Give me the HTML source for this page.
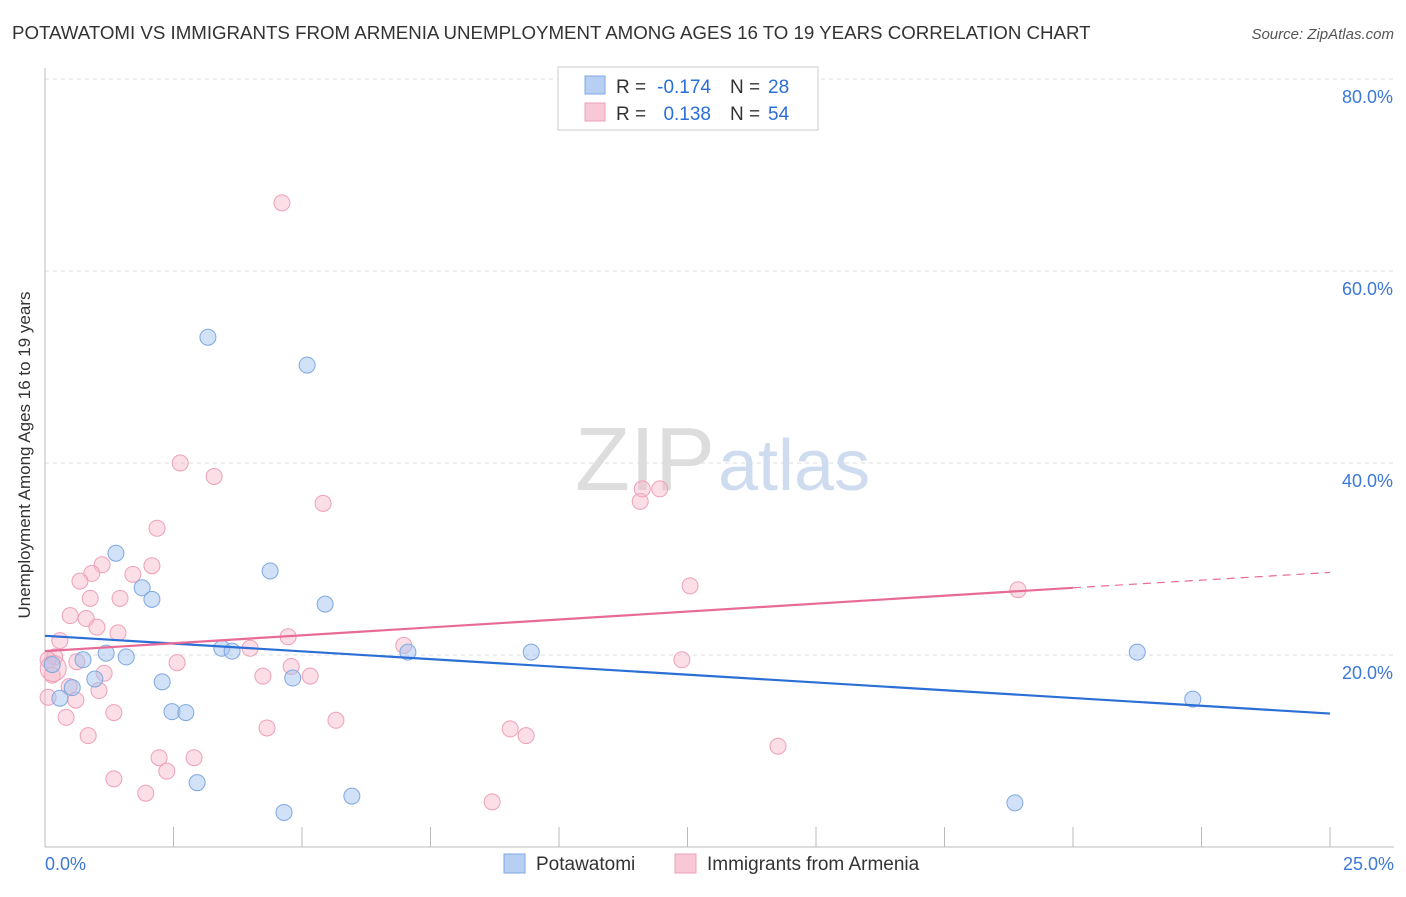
<!DOCTYPE html>
<html><head><meta charset="utf-8"><style>
body{margin:0;background:#fff;font-family:"Liberation Sans",sans-serif;}
svg text{font-family:"Liberation Sans",sans-serif;}
</style></head><body>
<svg width="1406" height="892" id="chart">
<text x="12" y="39" font-size="18.7" fill="#333">POTAWATOMI VS IMMIGRANTS FROM ARMENIA UNEMPLOYMENT AMONG AGES 16 TO 19 YEARS CORRELATION CHART</text>
<text x="1394" y="39" font-size="15" fill="#555" text-anchor="end" font-style="italic">Source: ZipAtlas.com</text>
<g id="grid"></g>
<text x="715" y="490" font-size="90" fill="#ddd" text-anchor="end" font-family="Liberation Serif">ZIP</text>
<text x="718" y="490" font-size="72" fill="#cfdcf0">atlas</text>
<text x="30" y="455" font-size="17" fill="#333" text-anchor="middle" transform="rotate(-90 30 455)">Unemployment Among Ages 16 to 19 years</text>
<g id="marks"></g>
<g>
<rect x="558" y="67" width="260" height="63" fill="#fff" stroke="#ccc"/>
<rect x="585" y="76" width="20" height="18" fill="#b6cff3" stroke="#7fa8e0"/>
<rect x="585" y="103" width="20" height="18" fill="#f9c8d6" stroke="#eea0b8"/>
<text x="616" y="93" font-size="19" fill="#333">R =</text>
<text x="711" y="93" font-size="19" fill="#2b6fd6" text-anchor="end">-0.174</text>
<text x="730" y="93" font-size="19" fill="#333">N =</text>
<text x="768" y="93" font-size="19" fill="#2b6fd6">28</text>
<text x="616" y="120" font-size="19" fill="#333">R =</text>
<text x="711" y="120" font-size="19" fill="#2b6fd6" text-anchor="end">0.138</text>
<text x="730" y="120" font-size="19" fill="#333">N =</text>
<text x="768" y="120" font-size="19" fill="#2b6fd6">54</text>
</g>
<g>
<rect x="504" y="854" width="21" height="19" fill="#b6cff3" stroke="#7fa8e0"/>
<text x="536" y="870" font-size="19" fill="#333">Potawatomi</text>
<rect x="675" y="854" width="21" height="19" fill="#f9c8d6" stroke="#eea0b8"/>
<text x="707" y="870" font-size="19" fill="#333">Immigrants from Armenia</text>
</g>
</svg>
<script>
const xTicks=[0,2.5,5,7.5,10,12.5,15,17.5,20,22.5,25];
const yTicks=[20,40,60,80];
const yTickLabels=["20.0%","40.0%","60.0%","80.0%"];
const blueX=[3.17,5.1,1.38,4.38,1.89,2.08,5.45,3.44,3.64,1.19,1.58,0.74,7.06,9.46,21.25,0.14,0.97,2.28,4.82,0.53,0.29,2.47,2.74,22.33,2.96,5.97,4.65,18.87];
const blueY=[53.1,50.2,30.6,28.75,27,25.8,25.3,20.7,20.4,20.2,19.8,19.5,20.3,20.3,20.3,19,17.5,17.2,17.6,16.6,15.5,14.1,14,15.4,6.7,5.3,3.6,4.6];
const pinkX=[4.61,2.63,3.29,5.41,11.58,11.62,11.96,2.18,1.11,2.08,0.91,1.71,0.68,12.55,18.93,0.88,1.46,0.49,0.8,1.01,1.42,4.73,0.29,6.98,3.99,0.19,0.06,0.62,2.57,12.39,4.79,0.14,1.15,4.24,5.16,0.47,1.05,0.06,0.6,1.34,0.41,5.66,4.32,9.05,0.84,9.36,14.26,2.22,2.9,2.37,1.34,1.96,8.7,0.16];
const pinkY=[67.1,40,38.6,35.8,36,37.3,37.3,33.2,29.4,29.3,28.5,28.4,27.7,27.2,26.8,25.9,25.9,24.1,23.8,22.9,22.3,21.9,21.5,21,20.7,19.8,19.5,19.3,19.2,19.5,18.8,17.9,18.1,17.8,17.8,16.7,16.3,15.6,15.3,14,13.5,13.2,12.4,12.3,11.6,11.6,10.5,9.3,9.3,7.9,7.1,5.6,4.7,18.6];
const blueTrend=[22.0,13.9];
const pinkTrend=[20.4,27.0,28.6];
const pinkTrendX=[0,20,25];
const NS="http://www.w3.org/2000/svg";
const X=v=>45+v*51.4, Y=v=>847-v*9.6;
function mk(tag,attrs,parent){const e=document.createElementNS(NS,tag);for(const k in attrs)e.setAttribute(k,attrs[k]);parent.appendChild(e);return e;}
const grid=document.getElementById('grid'), marks=document.getElementById('marks');
yTicks.forEach((t,i)=>{
 const l=mk('line',{x1:45,x2:1394,y1:Y(t),y2:Y(t),stroke:'#ddd','stroke-dasharray':'4,4'},grid);
 
 
 const tx=mk('text',{x:1393,y:Y(t)+24,'font-size':18,fill:'#3b78d8','text-anchor':'end'},grid);
 tx.textContent=yTickLabels[i];
 
 
});
const topGrid=mk('line',{x1:45,x2:1394,y1:79,y2:79,stroke:'#ddd','stroke-dasharray':'4,4'},grid);


const xa=mk('line',{x1:45,x2:1394,y1:847,y2:847,stroke:'#bbb'},grid);


const ya=mk('line',{x1:45,x2:45,y1:68,y2:847,stroke:'#bbb'},grid);


xTicks.forEach(t=>{
 const l=mk('line',{x1:X(t),x2:X(t),y1:827,y2:847,stroke:'#bbb'},grid);
 
 
});
const xl0=mk('text',{x:45,y:870,'font-size':18,fill:'#3b78d8'},grid);xl0.textContent='0.0%';


const xl1=mk('text',{x:1394,y:870,'font-size':18,fill:'#3b78d8','text-anchor':'end'},grid);xl1.textContent='25.0%';


pinkX.forEach((v,i)=>{
 const c=mk('circle',{cx:X(v),cy:Y(pinkY[i]),r:i==pinkX.length-1?13:8,fill:'rgba(246,182,200,0.45)',stroke:'#eea0b8','stroke-width':1},marks);
 
 
});
blueX.forEach((v,i)=>{
 const c=mk('circle',{cx:X(v),cy:Y(blueY[i]),r:8,fill:'rgba(164,196,240,0.5)',stroke:'#7fa8e0','stroke-width':1},marks);
 
 
});
const bl=mk('line',{x1:X(0),y1:Y(blueTrend[0]),x2:X(25),y2:Y(blueTrend[1]),stroke:'#2b6fd6','stroke-width':2.2},marks);


const pl=mk('line',{x1:X(pinkTrendX[0]),y1:Y(pinkTrend[0]),x2:X(pinkTrendX[1]),y2:Y(pinkTrend[1]),stroke:'#e86a96','stroke-width':2.2},marks);


const pd=mk('line',{x1:X(pinkTrendX[1]),y1:Y(pinkTrend[1]),x2:X(pinkTrendX[2]),y2:Y(pinkTrend[2]),stroke:'#e86a96','stroke-width':1.2,'stroke-dasharray':'8,6'},marks);


</script>
</body></html>
